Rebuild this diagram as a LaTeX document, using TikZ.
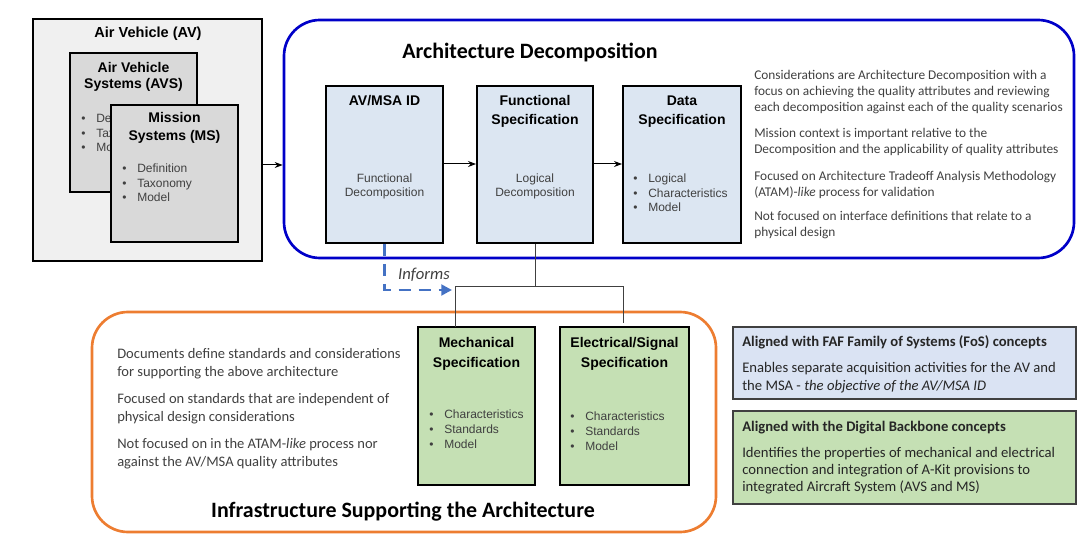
\documentclass[tikz,border=0pt]{standalone}
\usepackage{fontspec}
\setmainfont{Liberation Sans}
\newfontfamily\calibri{Carlito}
\usetikzlibrary{arrows.meta,fit}

\definecolor{avfill}{HTML}{F0F0F0}
\definecolor{sysfill}{HTML}{D9D9D9}
\definecolor{specblue}{HTML}{DCE6F2}
\definecolor{specgreen}{HTML}{C5E0B4}
\definecolor{noteblue}{HTML}{DAE3F3}
\definecolor{archblue}{HTML}{0000C8}
\definecolor{infraorange}{HTML}{ED7D31}
\definecolor{informblue}{HTML}{4472C4}
\definecolor{bodygray}{HTML}{404040}

\newcommand{\bul}[1]{\makebox[11.25pt][l]{\textbullet}#1}

\begin{document}
% Multi-line text nodes are placed by the baseline of their last line.
\begin{tikzpicture}[x=0.75pt,y=-0.75pt,
  boxshape/.style={draw=black, line width=1.5pt, inner sep=0pt},
  notebox/.style={draw=black!75, line width=1.1pt, inner sep=0pt},
  frame/.style={line width=2pt, rounded corners=27pt},
  boxtitle/.style={font=\bfseries\fontsize{10.5}{14.25}\selectfont, align=center, anchor=base, inner sep=0pt},
  boxbody/.style={font=\fontsize{9}{10.9}\selectfont, text=bodygray, align=center, anchor=base, inner sep=0pt},
  bullets/.style={font=\fontsize{9}{11.1}\selectfont, text=bodygray, align=left, anchor=base west, inner sep=0pt},
  para/.style={font=\calibri\fontsize{10}{12}\selectfont, text=bodygray, align=left, anchor=base west, inner sep=0pt},
  lowpara/.style={para, font=\calibri\fontsize{10.9}{13.1}\selectfont},
  notepara/.style={para, text=black!85, font=\calibri\fontsize{11}{13.3}\selectfont},
  bigtitle/.style={font=\calibri\bfseries\fontsize{16.45}{19}\selectfont, anchor=base, inner sep=0pt},
  flow/.style={line width=0.75pt, -{Stealth[length=6pt,width=4.5pt]}},
  tree/.style={draw=black!75, line width=0.75pt},
  informs/.style={draw=informblue, line width=2.2pt, dash pattern=on 9pt off 6pt,
    -{Triangle[length=8pt,width=8pt]}}]
\useasboundingbox (0,0) rectangle (1077,534);

% ---------- Air Vehicle block ----------
\node[boxshape, line width=1.2pt, fill=avfill, fit={(33,19) (262,261)}] (av) {};
\node[boxtitle, font=\bfseries\fontsize{10.9}{14}\selectfont] (avtitle) at (148,38) {Air Vehicle (AV)};

\node[boxshape, line width=1.2pt, fill=sysfill, fit={(70,53) (197,192)}] (avs) {};
\node[boxtitle, font=\bfseries\fontsize{10.5}{12}\selectfont] (avstitle) at (133.5,89) {Air Vehicle\\Systems (AVS)};
\node[bullets] (avslist) at (81,152) {\bul{Definition}\\\bul{Taxonomy}\\\bul{Model}};

\node[boxshape, line width=1.2pt, fill=sysfill, fit={(111,105) (238,242)}] (ms) {};
\node[boxtitle, font=\bfseries\fontsize{10.5}{13.5}\selectfont] (mstitle) at (174.5,141) {Mission\\Systems (MS)};
\node[bullets] (mslist) at (122,202) {\bul{Definition}\\\bul{Taxonomy}\\\bul{Model}};

% ---------- Architecture Decomposition frame ----------
\node[draw=archblue, frame, inner sep=0pt, fit={(284,20) (1074,258)}] (arch) {};
\node[bigtitle] (archtitle) at (530,59) {Architecture Decomposition};

\node[boxshape, fill=specblue, fit={(326,86) (443,243)}] (avmsa) {};
\node[boxtitle] (avmsatitle) at (384.5,106) {AV/MSA ID};
\node[boxbody] (avmsabody) at (384.5,197) {Functional\\Decomposition};

\node[boxshape, fill=specblue, fit={(477,86) (593,243)}] (fs) {};
\node[boxtitle] (fstitle) at (535,125) {Functional\\Specification};
\node[boxbody] (fsbody) at (535,197) {Logical\\Decomposition};

\node[boxshape, fill=specblue, fit={(623,86) (741,243)}] (ds) {};
\node[boxtitle] (dstitle) at (682,125) {Data\\Specification};
\node[bullets] (dslist) at (633,212) {\bul{Logical}\\\bul{Characteristics}\\\bul{Model}};

\node[para] (archnote1) at (754,111.5) {Considerations are Architecture Decomposition with a\\
focus on achieving the quality attributes and reviewing\\
each decomposition against each of the quality scenarios};
\node[para] (archnote2) at (754,153.5) {Mission context is important relative to the\\
Decomposition and the applicability of quality attributes};
\node[para] (archnote3) at (754,196.5) {Focused on Architecture Tradeoff Analysis Methodology\\
(ATAM)-\emph{like} process for validation};
\node[para] (archnote4) at (754,236.5) {Not focused on interface definitions that relate to a\\
physical design};

% ---------- Infrastructure frame ----------
\node[draw=infraorange, frame, inner sep=0pt, fit={(92,312) (716,532)}] (infra) {};
\node[bigtitle] (infratitle) at (403,517) {Infrastructure Supporting the Architecture};

\node[lowpara] (infranote1) at (117,376) {Documents define standards and considerations\\
for supporting the above architecture};
\node[lowpara] (infranote2) at (117,421) {Focused on standards that are independent of\\
physical design considerations};
\node[lowpara] (infranote3) at (117,466) {Not focused on in the ATAM-\emph{like} process nor\\
against the AV/MSA quality attributes};

\node[boxshape, fill=specgreen, fit={(418,327) (535,485)}] (mech) {};
\node[boxtitle] (mechtitle) at (476.5,367) {Mechanical\\Specification};
\node[bullets] (mechlist) at (429,448) {\bul{Characteristics}\\\bul{Standards}\\\bul{Model}};

\node[boxshape, fill=specgreen, fit={(560,327) (689,485)}] (elec) {};
\node[boxtitle] (electitle) at (624.5,367) {Electrical/Signal\\Specification};
\node[bullets] (eleclist) at (570,450) {\bul{Characteristics}\\\bul{Standards}\\\bul{Model}};

% ---------- Side notes ----------
\node[notebox, fill=noteblue, fit={(733,327) (1076,399)}] (fosnote) {};
\node[notepara] (fostitle) at (742,346) {\textbf{Aligned with FAF Family of Systems (FoS) concepts}};
\node[notepara] (fostext) at (742,390.5) {Enables separate acquisition activities for the AV and\\
the MSA - \emph{the objective of the AV/MSA ID}};

\node[notebox, fill=specgreen, fit={(733,411) (1076,504)}] (dbnote) {};
\node[notepara] (dbtitle) at (742,431) {\textbf{Aligned with the Digital Backbone concepts}};
\node[notepara, font=\calibri\fontsize{11}{12.75}\selectfont] (dbtext) at (742,491) {Identifies the properties of mechanical and electrical\\
connection and integration of A-Kit provisions to\\
integrated Aircraft System (AVS and MS)};

% ---------- Connectors ----------
\draw[flow] (av.east |- 0,165) -- (arch.west |- 0,165);
\draw[flow] (avmsa.east |- 0,164) -- (fs.west |- 0,164);
\draw[flow] (fs.east |- 0,164) -- (ds.west |- 0,164);

\coordinate (junction) at (535,287);
\coordinate (mechin) at (455,327);
\coordinate (elecin) at (623,323);
\draw[tree] (fs.south) -- (junction) -| (mechin);
\draw[tree] (junction) -| (elecin);

\coordinate (informtip) at (452,290);
\draw[informs] (avmsa.south) |- (informtip);
\node[font=\calibri\itshape\fontsize{12.5}{14}\selectfont, text=bodygray, anchor=base, inner sep=0pt] (informlabel) at (424,280) {Informs};
\end{tikzpicture}
\end{document}
